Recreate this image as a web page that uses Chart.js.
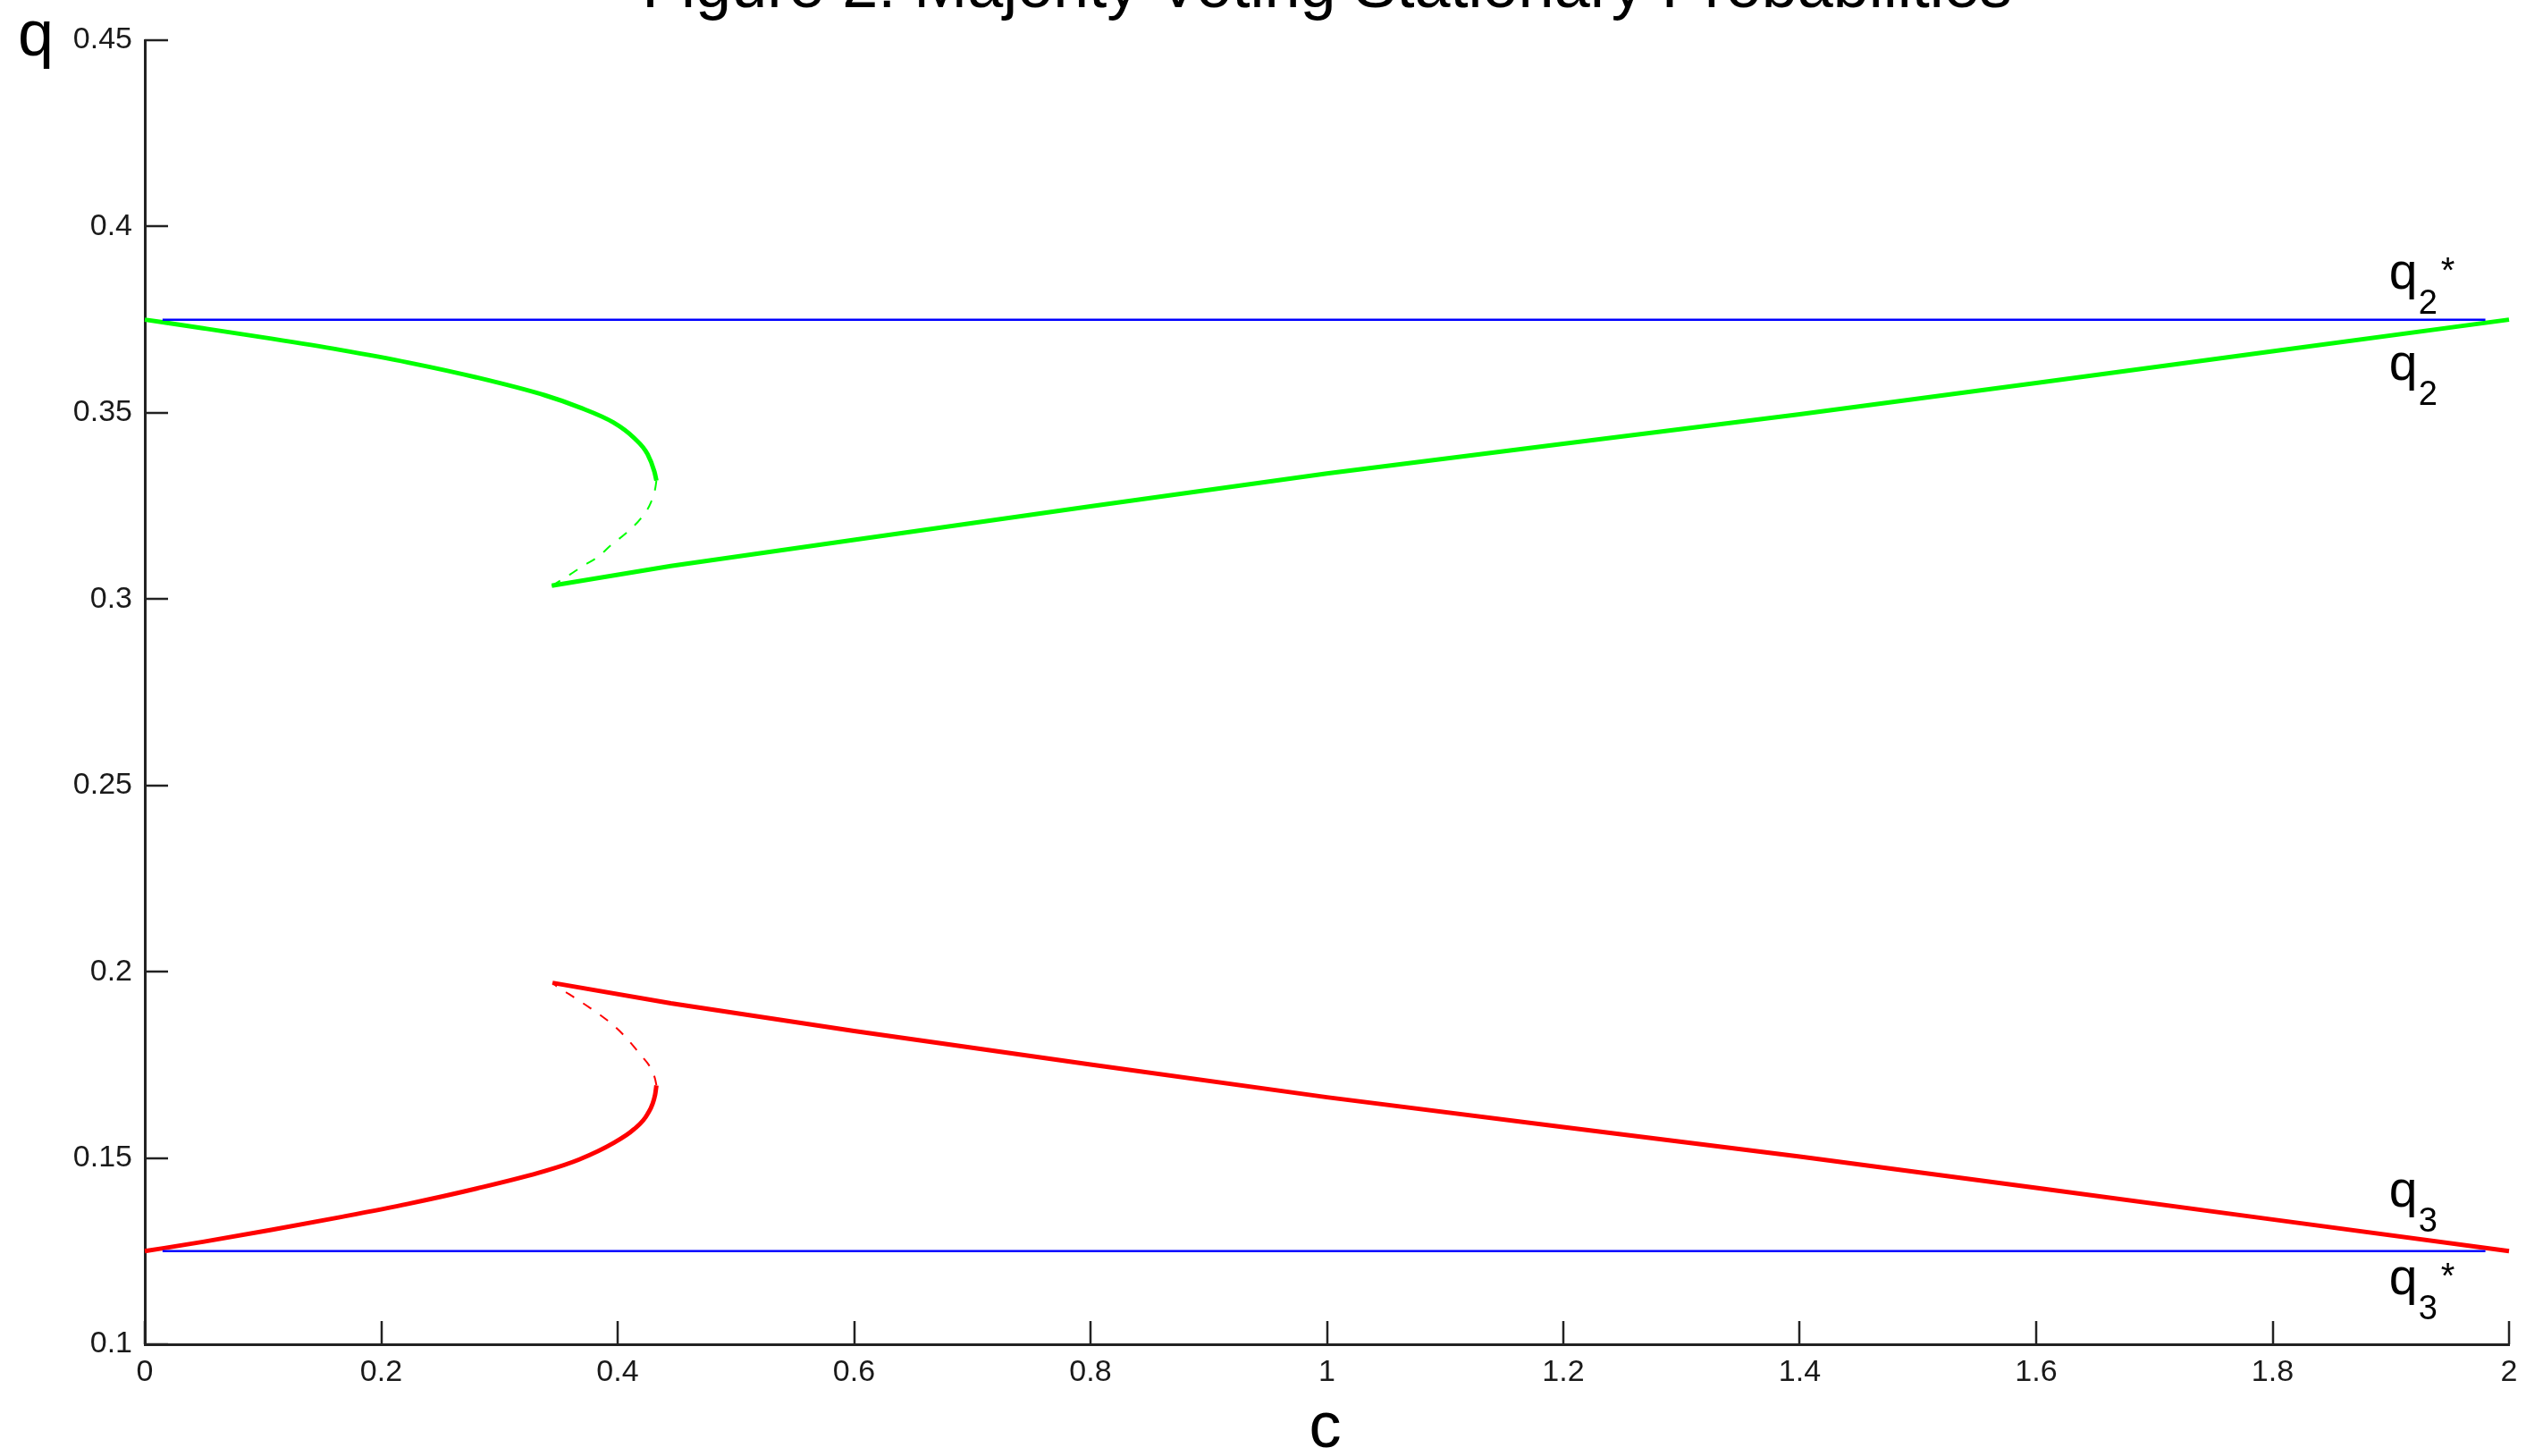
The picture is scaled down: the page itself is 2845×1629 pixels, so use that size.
<!DOCTYPE html>
<html>
<head>
<meta charset="utf-8">
<title>Figure 2: Majority Voting Stationary Probabilities</title>
<script src="https://cdn.jsdelivr.net/npm/chart.js@4.4.1/dist/chart.umd.min.js"></script>
<style>
    html, body { margin: 0; padding: 0; background: #fff; }
    #wrap { width: 2845px; height: 1629px; }
</style>
</head>
<body>
<div id="wrap"><canvas id="chart" width="2845" height="1629"></canvas></div>
<script>
// axis ticks
const xTicks = [0, 0.2, 0.4, 0.6, 0.8, 1, 1.2, 1.4, 1.6, 1.8, 2];
const xTickLabels = ['0', '0.2', '0.4', '0.6', '0.8', '1', '1.2', '1.4', '1.6', '1.8', '2'];
const yTicks = [0.1, 0.15, 0.2, 0.25, 0.3, 0.35, 0.4, 0.45];
const yTickLabels = ['0.1', '0.15', '0.2', '0.25', '0.3', '0.35', '0.4', '0.45'];

// q2 (green): stable upper branch, unstable (dashed) branch, stable lower branch
const q2UpperC = [0, 0.0492, 0.1071, 0.1649, 0.2228, 0.2806, 0.3385, 0.3674, 0.3964, 0.4137, 0.4253, 0.4311, 0.4328];
const q2UpperQ = [0.375, 0.3727, 0.3699, 0.3669, 0.3635, 0.3595, 0.3547, 0.3515, 0.3474, 0.3433, 0.3389, 0.3342, 0.3318];
const q2MidC = [0.4328, 0.4318, 0.4278, 0.4197, 0.4071, 0.3945, 0.3832, 0.3706, 0.3593, 0.3443];
const q2MidQ = [0.3318, 0.3297, 0.3257, 0.3217, 0.3177, 0.3145, 0.3113, 0.3089, 0.3065, 0.3036];
const q2LowC = [0.3443, 0.445, 0.6, 0.8, 1.0, 1.2, 1.4, 1.6, 1.8, 2.0];
const q2LowQ = [0.3036, 0.3089, 0.3159, 0.3249, 0.3337, 0.3417, 0.3496, 0.358, 0.3665, 0.375];

// q3 (red)
const q3LowC = [0, 0.0492, 0.107, 0.165, 0.2228, 0.2807, 0.3385, 0.3675, 0.3964, 0.4138, 0.4253, 0.4317, 0.4328];
const q3LowQ = [0.125, 0.1275, 0.1307, 0.1341, 0.1377, 0.1418, 0.1465, 0.1496, 0.154, 0.1577, 0.1618, 0.167, 0.1695];
const q3MidC = [0.4328, 0.4317, 0.4282, 0.4196, 0.408, 0.3964, 0.3834, 0.3704, 0.3588, 0.3487, 0.3449];
const q3MidQ = [0.1695, 0.1712, 0.174, 0.1776, 0.182, 0.1856, 0.1888, 0.1916, 0.194, 0.196, 0.197];
const q3HighC = [0.3449, 0.445, 0.6, 0.8, 1.0, 1.2, 1.4, 1.6, 1.8, 2.0];
const q3HighQ = [0.197, 0.1915, 0.1841, 0.1751, 0.1663, 0.1583, 0.1504, 0.142, 0.1335, 0.125];

// q* reference lines (blue)
const qStarC = [0.015, 1.98];
const q2StarQ = [0.375, 0.375];
const q3StarQ = [0.125, 0.125];

// curve labels at the right end
const labelBase = ['q', 'q', 'q', 'q'];
const labelSub = ['2', '2', '3', '3'];
const labelSup = ['*', '', '', '*'];

const pts = (cs, qs) => cs.map((c, i) => ({ x: c, y: qs[i] }));

const SANS = '"Liberation Sans", Arial, Helvetica, sans-serif';
const NARROW = '"Liberation Sans Narrow", "Arial Narrow", "Liberation Sans", sans-serif';
const AXIS_COLOR = '#222222';

function line(data, color, width, dash, smooth) {
    return {
        data,
        borderColor: color,
        backgroundColor: color,
        borderWidth: width,
        borderDash: dash || [],
        pointRadius: 0,
        showLine: true,
        fill: false,
        tension: smooth ? 0.4 : 0,
        cubicInterpolationMode: smooth ? 'monotone' : 'default',
        clip: false,
    };
}

// inward tick marks, like the matlab axes
const insideTicks = {
    id: 'insideTicks',
    afterDraw(chart) {
        const { ctx, chartArea, scales } = chart;
        const len = 26;
        ctx.save();
        ctx.strokeStyle = AXIS_COLOR;
        ctx.lineWidth = 2.5;
        ctx.beginPath();
        xTicks.forEach(v => {
            const px = Math.round(scales.x.getPixelForValue(v));
            ctx.moveTo(px, chartArea.bottom);
            ctx.lineTo(px, chartArea.bottom - len);
        });
        yTicks.forEach(v => {
            const py = Math.round(scales.y.getPixelForValue(v));
            ctx.moveTo(chartArea.left, py);
            ctx.lineTo(chartArea.left + len, py);
        });
        ctx.stroke();
        ctx.restore();
    }
};

// title, axis labels and the q labels
const textLayer = {
    id: 'textLayer',
    afterDraw(chart) {
        const { ctx, chartArea, scales } = chart;
        ctx.save();
        ctx.fillStyle = '#000';
        ctx.textBaseline = 'alphabetic';

        ctx.font = '72px ' + SANS;
        ctx.textAlign = 'center';
        ctx.fillText('Figure 2: Majority Voting Stationary Probabilities', (chartArea.left + chartArea.right) / 2, 8);
        ctx.fillText('c', (chartArea.left + chartArea.right) / 2 - 2, 1619);
        ctx.textAlign = 'left';
        ctx.fillText('q', 20, 62);

        const anchors = [[1.9, 0.3833], [1.9, 0.3588], [1.9, 0.1369], [1.9, 0.1134]];
        anchors.forEach((a, i) => {
            const px = scales.x.getPixelForValue(a[0]) - 2;
            const py = scales.y.getPixelForValue(a[1]);
            ctx.font = '57px ' + SANS;
            ctx.fillText(labelBase[i], px, py);
            ctx.font = '38px ' + SANS;
            ctx.fillText(labelSub[i], px + 33, py + 28);
            if (labelSup[i]) {
                ctx.font = '40px ' + SANS;
                ctx.fillText(labelSup[i], px + 58, py - 7);
            }
        });
        ctx.restore();
    }
};

const ctx = document.getElementById('chart').getContext('2d');
const chart = new Chart(ctx, {
    type: 'scatter',
    data: {
        datasets: [
            line(pts(qStarC, q2StarQ), '#0000ff', 2.5),
            line(pts(qStarC, q3StarQ), '#0000ff', 2.5),
            line(pts(q2UpperC, q2UpperQ), '#00ff00', 5, null, true),
            line(pts(q2MidC, q2MidQ), '#00ff00', 2, [11, 12], true),
            line(pts(q2LowC, q2LowQ), '#00ff00', 5),
            line(pts(q3LowC, q3LowQ), '#ff0000', 5, null, true),
            line(pts(q3MidC, q3MidQ), '#ff0000', 2, [11, 12], true),
            line(pts(q3HighC, q3HighQ), '#ff0000', 5),
        ]
    },
    options: {
        responsive: false,
        animation: false,
        devicePixelRatio: 1,
        layout: { padding: { left: 0, top: 45, right: 38, bottom: 0 } },
        plugins: {
            legend: { display: false },
            title: { display: false },
            tooltip: { enabled: false },
        },
        scales: {
            x: {
                type: 'linear',
                min: 0,
                max: 2,
                afterFit: s => { s.height = 125; },
                afterBuildTicks: s => { s.ticks = xTicks.map(v => ({ value: v })); },
                grid: { display: false, drawTicks: false, tickLength: 0 },
                border: { display: true, color: AXIS_COLOR, width: 3 },
                ticks: {
                    padding: 11,
                    color: '#1a1a1a',
                    font: { family: NARROW, size: 34 },
                    maxRotation: 0,
                    autoSkip: false,
                    callback: (v, i) => xTickLabels[i],
                },
            },
            y: {
                type: 'linear',
                min: 0.1,
                max: 0.45,
                afterFit: s => { s.width = 162; },
                afterBuildTicks: s => { s.ticks = yTicks.map(v => ({ value: v })); },
                grid: { display: false, drawTicks: false, tickLength: 0 },
                border: { display: true, color: AXIS_COLOR, width: 3 },
                ticks: {
                    padding: 14,
                    color: '#1a1a1a',
                    font: { family: NARROW, size: 34 },
                    autoSkip: false,
                    callback: (v, i) => yTickLabels[i],
                },
            },
        },
    },
    plugins: [insideTicks, textLayer],
});
</script>
</body>
</html>
